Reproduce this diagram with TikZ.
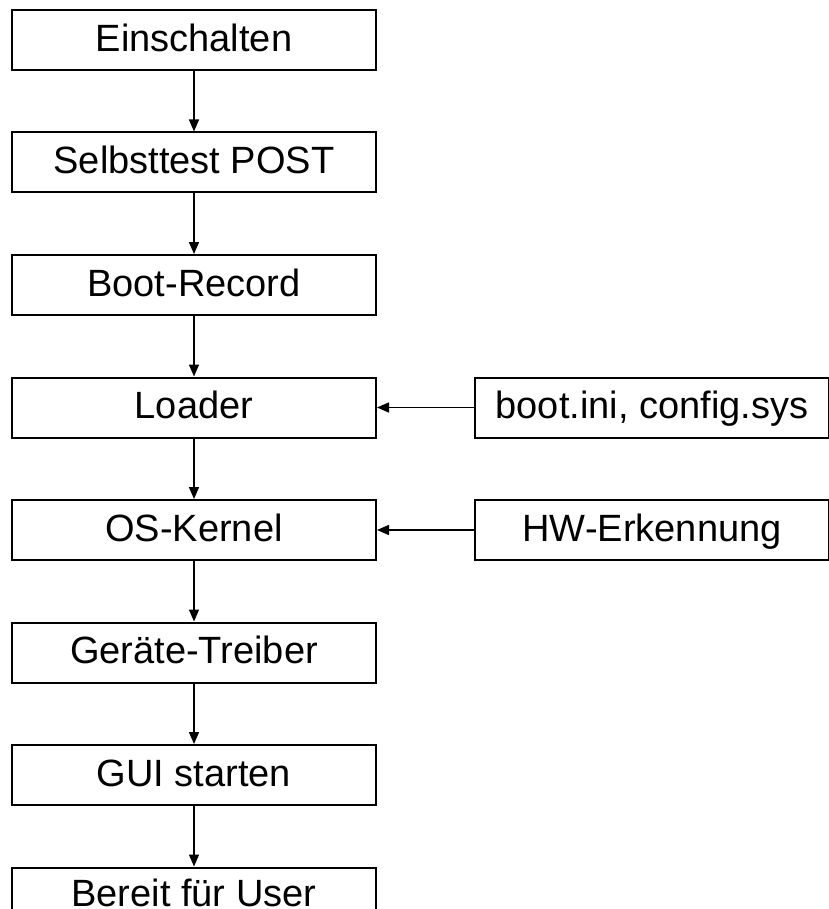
\documentclass[tikz,border=0pt]{standalone}
\usepackage{fontspec}
\setmainfont{Liberation Sans}
\usetikzlibrary{positioning, arrows.meta}

\begin{document}
\begin{tikzpicture}[
      x=1pt, y=1pt,
      node distance=60.5pt and 97pt,
      box/.style={draw, line width=2pt, minimum width=364pt, minimum height=60pt, inner sep=0pt,
        text height=27.4pt, text depth=5pt, font=\fontsize{38}{44}\selectfont},
      side/.style={box, minimum width=354pt},
      arr/.style={line width=1.5pt, -{Triangle[length=12pt, width=10pt]}}
    ]
    \useasboundingbox (0,0) rectangle (828,-909);
    \node[box] (on) at (194,-40) {Einschalten};
    \node[box, below=of on] (post) {Selbsttest POST};
    \node[box, below=of post] (rec) {Boot-Record};
    \node[box, below=of rec] (loader) {Loader};
    \node[box, below=of loader] (kernel) {OS-Kernel};
    \node[box, below=of kernel] (drv) {Geräte-Treiber};
    \node[box, below=of drv] (gui) {GUI starten};
    \node[box, below=of gui, text depth=9pt] (ready) {Bereit für User};

    \node[side, right=of loader] (ini) {boot.ini, config.sys};
    \node[side, right=of kernel] (hw) {HW-Erkennung};

    \draw[arr] (on) -- (post);
    \draw[arr] (post) -- (rec);
    \draw[arr] (rec) -- (loader);
    \draw[arr] (loader) -- (kernel);
    \draw[arr] (kernel) -- (drv);
    \draw[arr] (drv) -- (gui);
    \draw[arr] (gui) -- (ready);
    \draw[arr] (ini) -- (loader);
    \draw[arr] (hw) -- (kernel);
  \end{tikzpicture}
\end{document}
